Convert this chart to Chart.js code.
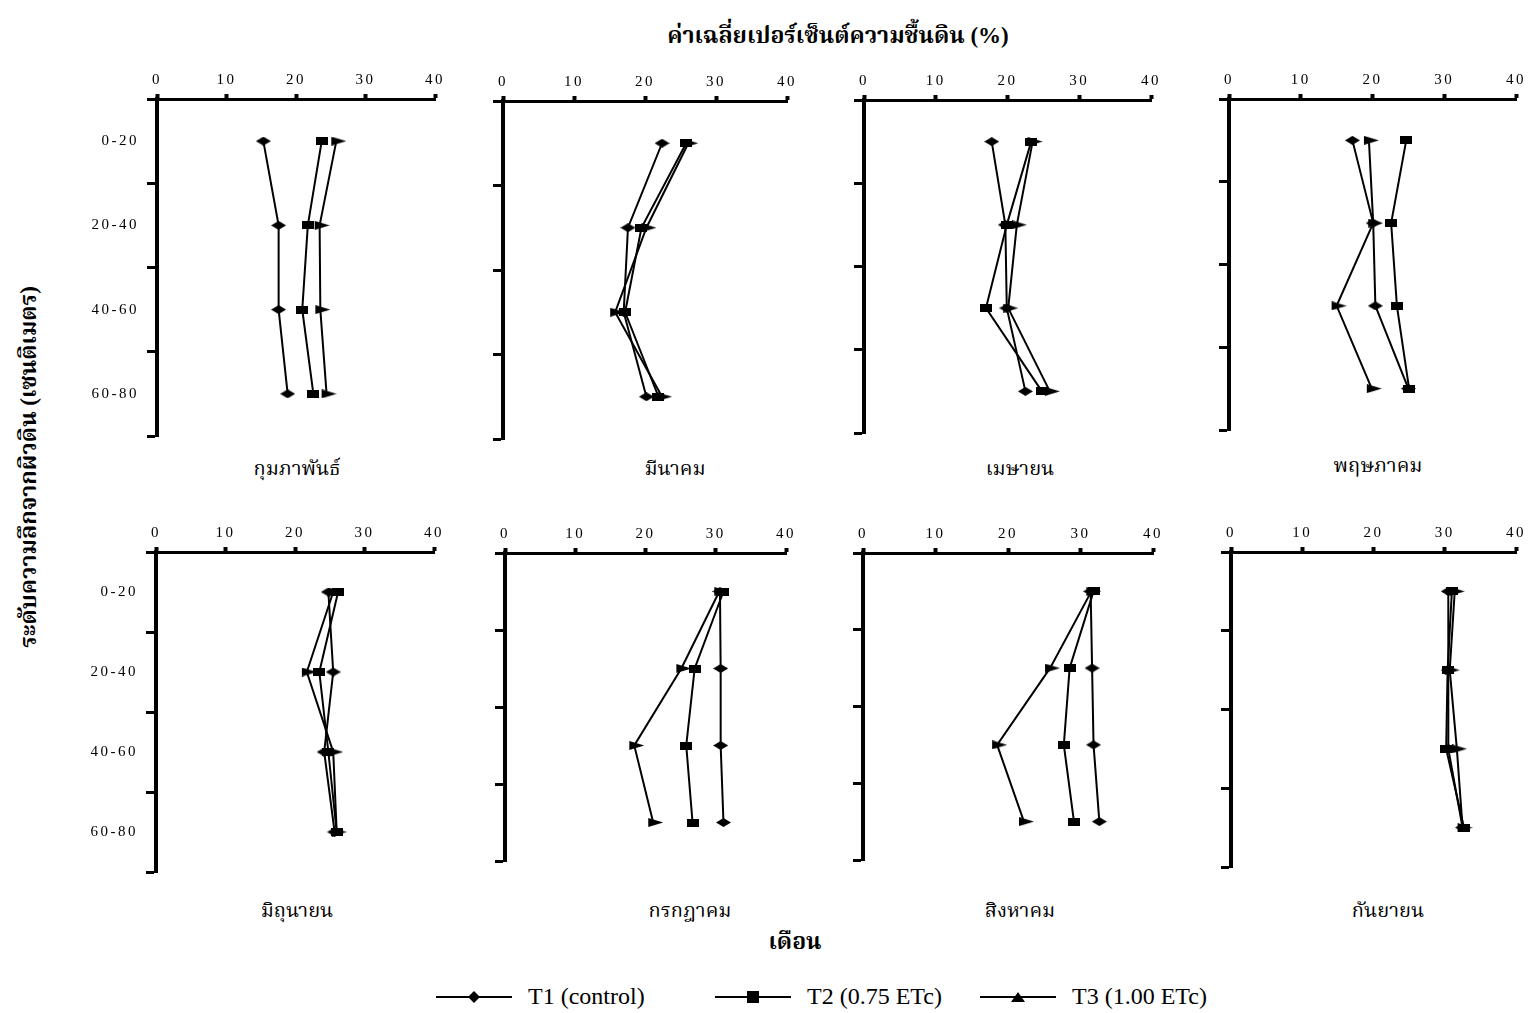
<!DOCTYPE html>
<html>
<head>
<meta charset="utf-8">
<script src="https://cdn.jsdelivr.net/npm/chart.js@4"></script>
<style>
  body { margin: 0; background: #fff; width: 1530px; height: 1013px; position: relative; overflow: hidden;
         font-family: "Liberation Serif", "Noto Serif Thai", "Noto Sans Thai", serif; color: #000; }
  .txt { position: absolute; white-space: nowrap; transform: translate(-50%, -50%); }
  .bold { font-weight: bold; font-size: 23px; }
  .month { font-size: 20px; }
  .vert { transform: translate(-50%, -50%) rotate(-90deg); }
  canvas.panel { position: absolute; }
  .leg { position: absolute; display: flex; align-items: center; font-size: 24px; white-space: nowrap; }
  .leg canvas { margin-right: 16px; }
</style>
</head>
<body>
<div class="txt bold" style="left:838px;top:37px">ค่าเฉลี่ยเปอร์เซ็นต์ความชื้นดิน (%)</div>
<div class="txt bold vert" style="left:30px;top:467px">ระดับความลึกจากผิวดิน (เซนติเมตร)</div>
<div class="txt bold" style="left:795px;top:943px">เดือน</div>
<div id="legend"></div>

<script>
// Months shown, one panel each
const months = ['กุมภาพันธ์', 'มีนาคม', 'เมษายน', 'พฤษภาคม', 'มิถุนายน', 'กรกฎาคม', 'สิงหาคม', 'กันยายน'];
// Soil depth layers (cm)
const depths = ['0-20', '20-40', '40-60', '60-80'];
// Moisture axis ticks (%)
const moistureTicks = [0, 10, 20, 30, 40];
const seriesNames = ['T1 (control)', 'T2 (0.75 ETc)', 'T3 (1.00 ETc)'];

// Average soil moisture (%) per month, per depth layer
const t1Control = [
  [15.3, 17.5, 17.5, 18.8],
  [22.4, 17.6, 17.0, 20.2],
  [17.8, 19.7, 19.9, 22.5],
  [17.2, 20.1, 20.4, 25.0],
  [24.8, 25.5, 24.2, 25.7],
  [30.6, 30.7, 30.7, 31.1],
  [31.4, 31.6, 31.8, 32.6],
  [30.5, 30.5, 30.5, 32.5]
];
const t2Etc075 = [
  [23.7, 21.7, 20.9, 22.5],
  [25.8, 19.5, 17.2, 21.9],
  [23.3, 19.9, 17.0, 24.8],
  [24.7, 22.6, 23.4, 25.1],
  [26.2, 23.5, 24.8, 26.0],
  [31.1, 27.0, 25.8, 26.7],
  [31.8, 28.5, 27.7, 29.1],
  [31.0, 30.4, 30.2, 32.7]
];
const t3Etc100 = [
  [25.8, 23.4, 23.5, 24.4],
  [26.1, 20.2, 15.8, 22.4],
  [23.5, 21.3, 20.1, 25.9],
  [19.5, 20.1, 15.0, 19.9],
  [25.5, 21.7, 25.5, 26.0],
  [30.5, 25.1, 18.4, 21.1],
  [31.5, 25.8, 18.5, 22.2],
  [31.4, 30.7, 31.7, 32.5]
];

// Panel placement on the page: axis origin, 40% position, top axis and bottom of depth axis
const frames = [
  { x0: 157, x40: 435, top: 99,  bottom: 438, labels: true,  mx: 297,  my: 470 },
  { x0: 503, x40: 787, top: 101, bottom: 441, labels: false, mx: 675,  my: 470 },
  { x0: 864, x40: 1151, top: 100, bottom: 435, labels: false, mx: 1020, my: 470 },
  { x0: 1229, x40: 1516, top: 99, bottom: 432, labels: false, mx: 1378, my: 467 },
  { x0: 156, x40: 434, top: 552, bottom: 874, labels: true,  mx: 297,  my: 912 },
  { x0: 505, x40: 786, top: 553, bottom: 863, labels: false, mx: 690,  my: 912 },
  { x0: 863, x40: 1153, top: 553, bottom: 862, labels: false, mx: 1020, my: 912 },
  { x0: 1231, x40: 1516, top: 552, bottom: 869, labels: false, mx: 1388, my: 912 }
];

// Flattened marker glyphs used on the plotted points
function glyph(w, h, path) {
  const c = document.createElement('canvas');
  c.width = w; c.height = h;
  const g = c.getContext('2d');
  g.fillStyle = '#000';
  g.beginPath();
  path(g, w, h);
  g.fill();
  return c;
}
const diamondMark = glyph(15, 9, (g, w, h) => { g.moveTo(0, h / 2); g.lineTo(w / 2, 0); g.lineTo(w, h / 2); g.lineTo(w / 2, h); g.closePath(); });
const squareMark = glyph(12, 8, (g, w, h) => { g.rect(0, 0, w, h); });
const triangleMark = glyph(20, 9, (g, w, h) => { g.moveTo(5, 0); g.lineTo(20, h / 2); g.lineTo(5, h); g.closePath(); });
const markers = [diamondMark, squareMark, triangleMark];
const seriesData = [t1Control, t2Etc075, t3Etc100];

// Spaced-out tick lettering
const spacing = {
  id: 'spacing',
  beforeUpdate(chart) { chart.ctx.letterSpacing = '2.5px'; },
  beforeDraw(chart) { chart.ctx.letterSpacing = '2.5px'; }
};

const X_BOX = 30, PAD_R = 14, PAD_B = 6;
const tickFont = { family: 'Liberation Serif', size: 15 };

frames.forEach((f, i) => {
  const yW = f.labels ? 80 : 15;
  const cv = document.createElement('canvas');
  cv.className = 'panel';
  const w = (f.x40 - f.x0) + yW + PAD_R;
  const h = (f.bottom - f.top) + X_BOX + PAD_B;
  cv.width = w; cv.height = h;
  cv.style.left = (f.x0 - yW) + 'px';
  cv.style.top = (f.top - X_BOX) + 'px';
  cv.style.width = w + 'px'; cv.style.height = h + 'px';
  document.body.appendChild(cv);

  const lbl = document.createElement('div');
  lbl.className = 'txt month';
  lbl.style.left = f.mx + 'px';
  lbl.style.top = f.my + 'px';
  lbl.textContent = months[i];
  document.body.appendChild(lbl);

  new Chart(cv, {
    type: 'line',
    data: {
      labels: depths,
      datasets: seriesNames.map((name, k) => ({
        label: name,
        data: seriesData[k][i],
        borderColor: '#000',
        backgroundColor: '#000',
        borderWidth: 2,
        pointStyle: markers[k],
        pointRadius: 6,
        fill: false,
        tension: 0
      }))
    },
    options: {
      indexAxis: 'y',
      responsive: false,
      animation: false,
      events: [],
      layout: { padding: { left: 0, right: PAD_R, top: 0, bottom: PAD_B } },
      plugins: { legend: { display: false }, tooltip: { enabled: false } },
      scales: {
        x: {
          type: 'linear',
          position: 'top',
          min: moistureTicks[0],
          max: moistureTicks[moistureTicks.length - 1],
          ticks: { stepSize: moistureTicks[1] - moistureTicks[0], font: tickFont, color: '#000', padding: 5 },
          grid: { drawOnChartArea: false, drawTicks: true, tickLength: 5, tickWidth: 4, tickColor: '#000' },
          border: { display: true, color: '#000', width: 3 },
          afterFit(s) { s.height = X_BOX; s.paddingLeft = 0; s.paddingRight = 0; }
        },
        y: {
          type: 'category',
          offset: true,
          ticks: { display: f.labels, font: tickFont, color: '#000', padding: 8 },
          grid: { offset: true, drawOnChartArea: false, drawTicks: true, tickLength: 10, tickWidth: 3, tickColor: '#000' },
          border: { display: true, color: '#000', width: 4 },
          afterFit(s) { s.width = yW; s.paddingTop = 0; s.paddingBottom = 0; }
        }
      }
    },
    plugins: [spacing]
  });
});

// Legend row below the panels
const legendPos = [436, 715, 980];
const legendGlyph = [
  (g) => { g.moveTo(32, 8); g.lineTo(38, 2); g.lineTo(44, 8); g.lineTo(38, 14); g.closePath(); },
  (g) => { g.rect(32, 2, 12, 12); },
  (g) => { g.moveTo(31, 13); g.lineTo(38, 3); g.lineTo(45, 13); g.closePath(); }
];
seriesNames.forEach((name, k) => {
  const box = document.createElement('div');
  box.className = 'leg';
  box.style.left = legendPos[k] + 'px';
  box.style.top = '983px';
  const c = document.createElement('canvas');
  c.width = 76; c.height = 16;
  const g = c.getContext('2d');
  g.strokeStyle = '#000'; g.lineWidth = 2;
  g.beginPath(); g.moveTo(0, 8); g.lineTo(76, 8); g.stroke();
  g.fillStyle = '#000'; g.beginPath(); legendGlyph[k](g); g.fill();
  box.appendChild(c);
  const s = document.createElement('span');
  s.textContent = name;
  box.appendChild(s);
  document.getElementById('legend').appendChild(box);
});
</script>
</body>
</html>
